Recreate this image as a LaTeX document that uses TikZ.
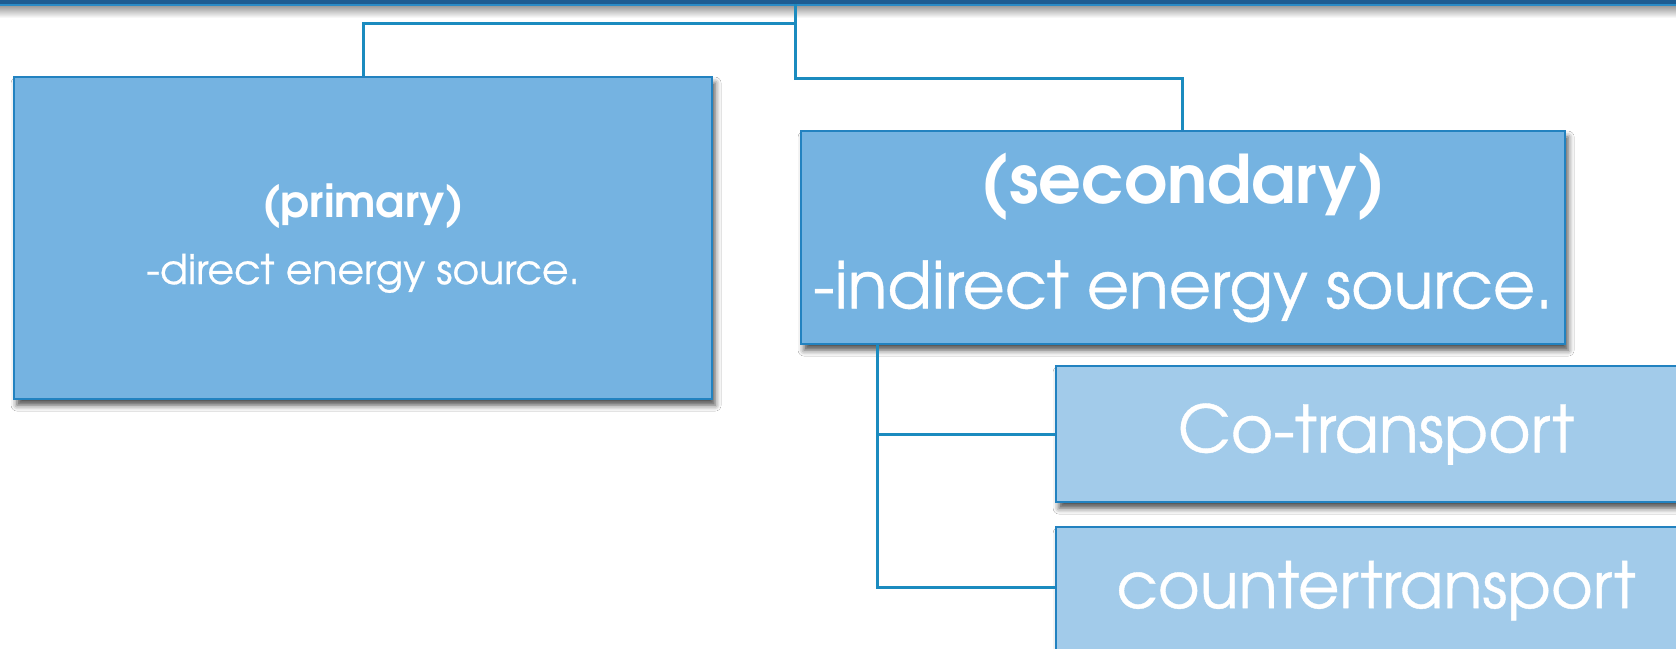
\documentclass[tikz,border=0pt]{standalone}
\usepackage{fontspec}
\setmainfont{texgyreadventor}[Extension=.otf, UprightFont=*-regular, BoldFont=*-bold]
\newfontfamily\heavyfont{texgyreadventor}[Extension=.otf, UprightFont=*-regular, BoldFont=*-bold, UprightFeatures={FakeBold=0.6}]
\usetikzlibrary{shadows.blur,positioning}
\definecolor{boxfill}{RGB}{117,179,225}
\definecolor{lightfill}{RGB}{162,203,234}
\definecolor{boxedge}{RGB}{34,130,192}
\definecolor{linkcol}{RGB}{27,139,191}
\definecolor{bardark}{RGB}{30,92,145}
\definecolor{barlight}{RGB}{42,139,198}
\tikzset{
  box/.style={draw=boxedge, line width=2.2pt, fill=boxfill, anchor=north west,
    text=white, align=center, inner sep=0pt,
    blur shadow={shadow xshift=3pt, shadow yshift=-6pt, shadow blur radius=6pt, shadow opacity=70}},
  lbox/.style={box, fill=lightfill},
  link/.style={draw=linkcol, line width=3pt},
}
\begin{document}
\begin{tikzpicture}[x=1pt,y=-1pt]
\useasboundingbox (0,0) rectangle (1676,648);
\fill[white] (0,0) rectangle (1676,648);
% top bar shadow
\shade[top color=black!45, bottom color=white] (0,4) rectangle (1676,18);
\node[fill=bardark, minimum width=1676pt, minimum height=4pt, inner sep=0pt, anchor=north west] (bar) at (0,0) {};
\fill[barlight] (0,3.5) rectangle (1676,5.5);
% boxes
\node[box, minimum width=698pt, minimum height=322pt, font=\heavyfont\fontsize{41}{67}\selectfont] (prim) at (13,76)
  {{\fontsize{44}{67}\selectfont\bfseries (primary)}\\
   -direct energy source.};
\node[box, minimum width=764pt, minimum height=213pt, font=\heavyfont\fontsize{65}{105}\selectfont] (sec) at (800,130)
  {{\fontsize{67}{105}\selectfont\bfseries (secondary)}\\
   -indirect energy source.};
\node[lbox, minimum width=640pt, minimum height=136pt, font=\heavyfont\fontsize{65}{70}\selectfont] (co) at (1055,365)
  {Co-transport};
\node[lbox, minimum width=640pt, minimum height=127pt, font=\heavyfont\fontsize{64}{70}\selectfont] (ctr) at (1055,526)
  {countertransport};
% connectors
\coordinate (root) at (795,4);
\draw[link] (root) -- (795,23) -- (363,23) -- (prim.north -| 363,0);
\draw[link] (root) -- (795,78) -- (1182,78) -- (sec.north -| 1182,0);
\draw[link] (sec.south -| 877,0) -- (877,434) -- (co.west |- 0,434);
\draw[link] (877,420) -- (877,587) -- (ctr.west |- 0,587);
\end{tikzpicture}
\end{document}
